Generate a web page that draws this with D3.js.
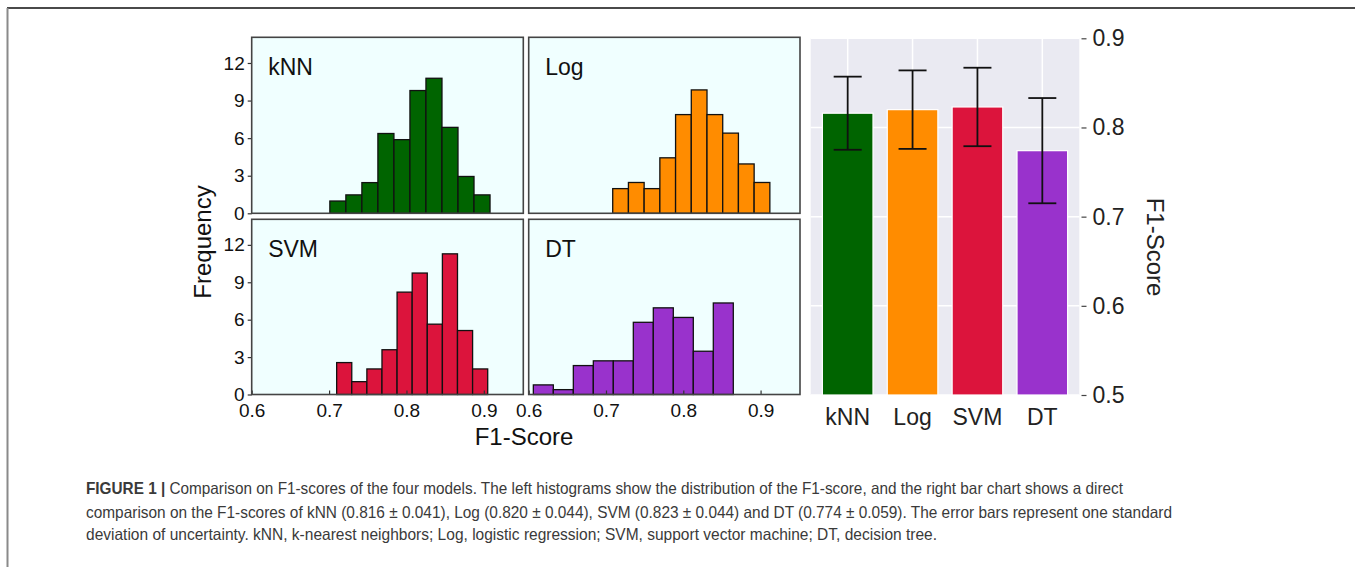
<!DOCTYPE html>
<html lang="en">
<head>
  <meta charset="UTF-8">
  <title>F1-score comparison of four models</title>
  <style>
    body { margin: 0; background: #fff; }
    text { font-family: "Liberation Sans", Arial, Helvetica, sans-serif; }
  </style>
</head>
<body>
  <script src="https://d3js.org/d3.v7.min.js"></script>
  <script>
    // models, colours and summary numbers (mean +/- sd)
    const models = ["kNN", "Log", "SVM", "DT"];
    const colors = ["#006400", "#ff8c00", "#dc143c", "#9932cc"];
    const meanF1 = [0.816, 0.820, 0.823, 0.774];
    const sdF1 = [0.041, 0.044, 0.044, 0.059];

    // histogram range (first / last bin edge) and the frequency of each of the 10 bins
    const binMin = [0.701, 0.7087, 0.7098, 0.606];
    const binMax = [0.908, 0.912, 0.905, 0.8647];
    const freqKNN = [0.98, 1.47, 2.45, 6.37, 5.88, 9.80, 10.78, 6.86, 2.94, 1.47];
    const freqLog = [1.97, 2.46, 1.97, 4.43, 7.88, 9.85, 7.88, 6.40, 3.94, 2.46];
    const freqSVM = [2.56, 1.03, 2.05, 3.59, 8.21, 9.74, 5.64, 11.28, 5.13, 2.05];
    const freqDT = [0.77, 0.39, 2.32, 2.70, 2.70, 5.79, 6.95, 6.18, 3.47, 7.34];
    const freqs = [freqKNN, freqLog, freqSVM, freqDT];

    // tick values
    const histXTicks = [0.6, 0.7, 0.8, 0.9];
    const histYTicks = [0, 3, 6, 9, 12];
    const barYTicks = [0.5, 0.6, 0.7, 0.8, 0.9];

    const captionLines = [
      "Comparison on F1-scores of the four models. The left histograms show the distribution of the F1-score, and the right bar chart shows a direct",
      "comparison on the F1-scores of kNN (0.816 \u00b1 0.041), Log (0.820 \u00b1 0.044), SVM (0.823 \u00b1 0.044) and DT (0.774 \u00b1 0.059). The error bars represent one standard",
      "deviation of uncertainty. kNN, k-nearest neighbors; Log, logistic regression; SVM, support vector machine; DT, decision tree."
    ];

    const W = 1355, H = 567;
    const svg = d3.select("body").append("svg")
      .attr("width", W)
      .attr("height", H);

    // frame lines of the figure box
    svg.append("line").attr("x1", 7).attr("x2", W).attr("y1", 8).attr("y2", 8)
      .attr("stroke", "#4a4a4a").attr("stroke-width", 2);
    svg.append("line").attr("x1", 7.5).attr("x2", 7.5).attr("y1", 8).attr("y2", H)
      .attr("stroke", "#8a8a8a").attr("stroke-width", 2);

    // ---------- histograms ----------
    const colX = [[251.7, 523.3], [528.7, 800]];
    const rowY = [[37.3, 213.3], [219.3, 394.5]];

    models.forEach((m, i) => {
      const col = i % 2, row = Math.floor(i / 2);
      const [x0, x1] = colX[col];
      const [y0, y1] = rowY[row];

      const x = d3.scaleLinear().domain([0.6, 0.951]).range([x0, x1]);
      const y = d3.scaleLinear().domain([0, 14.05]).range([y1, y0]);

      const g = svg.append("g");

      g.append("rect")
        .attr("x", x0).attr("y", y0)
        .attr("width", x1 - x0).attr("height", y1 - y0)
        .attr("fill", "#f0ffff");

      const n = freqs[i].length;
      const edges = d3.range(n + 1).map(k => binMin[i] + k * (binMax[i] - binMin[i]) / n);

      g.selectAll("rect.bin").data(freqs[i]).enter().append("rect")
        .attr("class", "bin")
        .attr("x", (d, k) => x(edges[k]))
        .attr("width", (d, k) => x(edges[k + 1]) - x(edges[k]))
        .attr("y", d => y(d))
        .attr("height", d => y(0) - y(d))
        .attr("fill", colors[i])
        .attr("stroke", "#111")
        .attr("stroke-width", 1.3);

      // x axis (ticks pointing inward), labels only on the bottom row
      if (row === 1) {
        const ax = g.append("g")
          .attr("transform", `translate(0,${y1})`)
          .call(d3.axisBottom(x).tickValues(histXTicks).tickSize(-4).tickPadding(9)
            .tickFormat(d3.format(".1f")));
        ax.select(".domain").remove();
        ax.selectAll("line").attr("stroke", "#333").attr("stroke-width", 1.2);
        ax.selectAll("text").attr("font-size", 19).attr("fill", "#111")
          .style("font-family", "Liberation Sans, Arial, sans-serif");
      }

      // y axis on the left column
      if (col === 0) {
        const ay = g.append("g")
          .attr("transform", `translate(${x0},0)`)
          .call(d3.axisLeft(y).tickValues(histYTicks).tickSize(4).tickPadding(3));
        ay.select(".domain").remove();
        ay.selectAll("line").attr("stroke", "#333").attr("stroke-width", 1.2);
        ay.selectAll("text").attr("font-size", 19).attr("fill", "#111")
          .style("font-family", "Liberation Sans, Arial, sans-serif");
      }

      g.append("rect")
        .attr("x", x0).attr("y", y0)
        .attr("width", x1 - x0).attr("height", y1 - y0)
        .attr("fill", "none")
        .attr("stroke", "#444")
        .attr("stroke-width", 1.6);

      g.append("text")
        .attr("x", x0 + 16.5)
        .attr("y", y0 + 37.5)
        .attr("font-size", 23)
        .attr("fill", "#111")
        .text(m);
    });

    svg.append("text")
      .attr("transform", "translate(211,242) rotate(-90)")
      .attr("text-anchor", "middle")
      .attr("font-size", 24)
      .attr("fill", "#111")
      .text("Frequency");

    svg.append("text")
      .attr("x", 524)
      .attr("y", 445)
      .attr("text-anchor", "middle")
      .attr("font-size", 24)
      .attr("fill", "#111")
      .text("F1-Score");

    // ---------- bar chart ----------
    const bx = d3.scaleBand().domain(models).range([810.7, 1079.3])
      .paddingInner(0.22).paddingOuter(0.18);
    const by = d3.scaleLinear().domain([0.5, 0.9]).range([395, 38.3]);

    const bg = svg.append("g");
    bg.append("rect")
      .attr("x", 810.7).attr("y", by(0.9))
      .attr("width", 1079.3 - 810.7).attr("height", by(0.5) - by(0.9))
      .attr("fill", "#eaeaf2");

    bg.selectAll("line.hgrid").data(barYTicks).enter().append("line")
      .attr("class", "hgrid")
      .attr("x1", 810.7).attr("x2", 1079.3)
      .attr("y1", d => by(d)).attr("y2", d => by(d))
      .attr("stroke", "#fff").attr("stroke-width", 1.5);

    bg.selectAll("line.vgrid").data(models).enter().append("line")
      .attr("class", "vgrid")
      .attr("x1", d => bx(d) + bx.bandwidth() / 2).attr("x2", d => bx(d) + bx.bandwidth() / 2)
      .attr("y1", by(0.9)).attr("y2", by(0.5))
      .attr("stroke", "#fff").attr("stroke-width", 1.5);

    bg.selectAll("rect.bar").data(models).enter().append("rect")
      .attr("class", "bar")
      .attr("x", d => bx(d))
      .attr("width", bx.bandwidth())
      .attr("y", (d, i) => by(meanF1[i]))
      .attr("height", (d, i) => by(0.5) - by(meanF1[i]))
      .attr("fill", (d, i) => colors[i])
      .attr("stroke", "#fff")
      .attr("stroke-width", 1.2);

    // error bars
    const capHalf = 14;
    const eb = bg.selectAll("g.err").data(models).enter().append("g").attr("class", "err");
    eb.append("line")
      .attr("x1", d => bx(d) + bx.bandwidth() / 2).attr("x2", d => bx(d) + bx.bandwidth() / 2)
      .attr("y1", (d, i) => by(meanF1[i] - sdF1[i])).attr("y2", (d, i) => by(meanF1[i] + sdF1[i]));
    eb.append("line")
      .attr("x1", d => bx(d) + bx.bandwidth() / 2 - capHalf).attr("x2", d => bx(d) + bx.bandwidth() / 2 + capHalf)
      .attr("y1", (d, i) => by(meanF1[i] + sdF1[i])).attr("y2", (d, i) => by(meanF1[i] + sdF1[i]));
    eb.append("line")
      .attr("x1", d => bx(d) + bx.bandwidth() / 2 - capHalf).attr("x2", d => bx(d) + bx.bandwidth() / 2 + capHalf)
      .attr("y1", (d, i) => by(meanF1[i] - sdF1[i])).attr("y2", (d, i) => by(meanF1[i] - sdF1[i]));
    eb.selectAll("line").attr("stroke", "#111").attr("stroke-width", 1.8);

    const ar = bg.append("g")
      .attr("transform", "translate(1081.5,0)")
      .call(d3.axisRight(by).tickValues(barYTicks).tickSize(5).tickPadding(6)
        .tickFormat(d3.format(".1f")));
    ar.select(".domain").remove();
    ar.selectAll("line").attr("stroke", "#444").attr("stroke-width", 1.2);
    ar.selectAll("text").attr("font-size", 23).attr("fill", "#222")
      .style("font-family", "Liberation Sans, Arial, sans-serif");

    const ab = bg.append("g")
      .attr("transform", `translate(0,${by(0.5)})`)
      .call(d3.axisBottom(bx).tickSize(0).tickPadding(13.7));
    ab.select(".domain").remove();
    ab.selectAll("text").attr("font-size", 23).attr("fill", "#222")
      .style("font-family", "Liberation Sans, Arial, sans-serif");

    svg.append("text")
      .attr("transform", "translate(1147,247) rotate(90)")
      .attr("text-anchor", "middle")
      .attr("font-size", 24)
      .attr("fill", "#222")
      .text("F1-Score");

    // ---------- caption ----------
    const capX = 86;
    const capBase = [494, 518, 540];
    const capWidth = [1037, 1086, 851];
    captionLines.forEach((line, i) => {
      const t = svg.append("text")
        .attr("x", capX)
        .attr("y", capBase[i])
        .attr("font-size", 16.5)
        .attr("fill", "#3a3a3a")
        .attr("textLength", capWidth[i])
        .attr("lengthAdjust", "spacingAndGlyphs");
      if (i === 0) {
        t.append("tspan").attr("font-weight", "bold").text("FIGURE 1 | ");
      }
      t.append("tspan").text(line);
    });
  </script>
</body>
</html>
